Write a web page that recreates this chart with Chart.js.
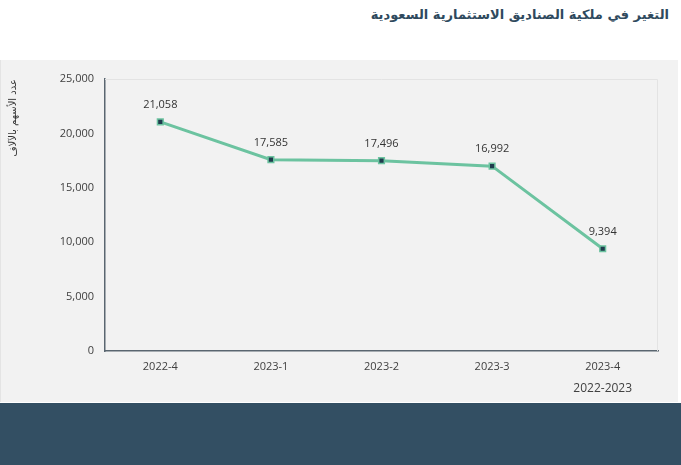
<!DOCTYPE html>
<html>
<head>
<meta charset="utf-8">
<script src="https://cdn.jsdelivr.net/npm/chart.js@4"></script>
<style>
  html, body { margin: 0; padding: 0; background: #fff; }
  body { width: 681px; height: 465px; position: relative; overflow: hidden; }
  #title {
    position: absolute; top: 7px; right: 12px;
    font: bold 13px "DejaVu Sans", "Noto Sans", sans-serif;
    color: #2f4a5e; direction: rtl; white-space: nowrap;
  }
  #panel {
    position: absolute; left: 0; top: 60px; width: 678px; height: 342px;
    background: #f2f2f2; border-left: 1px solid #e4e4e4; box-sizing: border-box;
  }
  #footer {
    position: absolute; left: 0; top: 403px; width: 681px; height: 62px;
    background: #334f63;
  }
</style>
</head>
<body>
<div id="title">التغير في ملكية الصناديق الاستثمارية السعودية</div>
<div id="panel"><canvas id="fundsChart" width="678" height="342"></canvas></div>
<div id="footer"></div>
<script>
const quarters = ['2022-4', '2023-1', '2023-2', '2023-3', '2023-4'];
const shares = [21058, 17585, 17496, 16992, 9394];
const periodLabel = '2022-2023';
const yTitle = 'عدد الأسهم بالآلاف';

const textColor = '#404040';
const baseFont = { family: '"Open Sans", "Noto Sans", sans-serif', size: 11 };

// plot frame, value labels and period label under the last tick
const extras = {
    id: 'extras',
    beforeDatasetsDraw(chart) {
        const { ctx, chartArea: a } = chart;
        ctx.save();
        ctx.strokeStyle = '#e3e3e3';
        ctx.lineWidth = 1;
        ctx.beginPath();
        ctx.moveTo(a.left, a.top + 0.5);
        ctx.lineTo(a.right - 0.5, a.top + 0.5);
        ctx.lineTo(a.right - 0.5, a.bottom);
        ctx.stroke();
        ctx.restore();
    },
    afterDatasetsDraw(chart) {
        const { ctx } = chart;
        const meta = chart.getDatasetMeta(0);
        ctx.save();
        ctx.font = '11px ' + baseFont.family;
        ctx.fillStyle = '#333';
        ctx.textAlign = 'center';
        ctx.textBaseline = 'middle';
        meta.data.forEach((pt, i) => {
            ctx.fillText(shares[i].toLocaleString('en-US'), pt.x, pt.y - 17);
        });
        const xs = chart.scales.x;
        ctx.font = '12px ' + baseFont.family;
        ctx.fillStyle = textColor;
        ctx.fillText(periodLabel, xs.getPixelForValue(quarters.length - 1), 329);
        ctx.restore();
    }
};

new Chart(document.getElementById('fundsChart'), {
    type: 'line',
    data: {
        labels: quarters,
        datasets: [{
            data: shares,
            borderColor: '#6cc3a0',
            borderWidth: 3,
            pointStyle: 'rect',
            pointRadius: 4,
            pointBackgroundColor: '#1f3b4d',
            pointBorderColor: '#6cc3a0',
            pointBorderWidth: 1.5,
            tension: 0
        }]
    },
    options: {
        responsive: false,
        animation: false,
        layout: { padding: { top: 19, right: 21, left: 0, bottom: 0 } },
        plugins: { legend: { display: false }, tooltip: { enabled: false } },
        scales: {
            x: {
                offset: true,
                grid: { display: false, drawTicks: false },
                border: { color: '#5a6670', width: 1.5 },
                ticks: { color: textColor, font: baseFont, padding: 9 },
                afterFit(scale) { scale.height = 51; }
            },
            y: {
                min: 0,
                max: 25000,
                grid: { display: false, drawTicks: false },
                border: { color: '#5a6670', width: 1.5 },
                ticks: {
                    stepSize: 5000,
                    color: textColor,
                    font: baseFont,
                    padding: 11,
                    callback: v => v.toLocaleString('en-US')
                },
                title: {
                    display: true,
                    text: yTitle,
                    align: 'end',
                    color: '#333',
                    font: { family: '"DejaVu Sans", sans-serif', size: 10 },
                    padding: { top: 6, bottom: 0 }
                },
                afterFit(scale) { scale.width = 104; }
            }
        }
    },
    plugins: [extras]
});
</script>
</body>
</html>
